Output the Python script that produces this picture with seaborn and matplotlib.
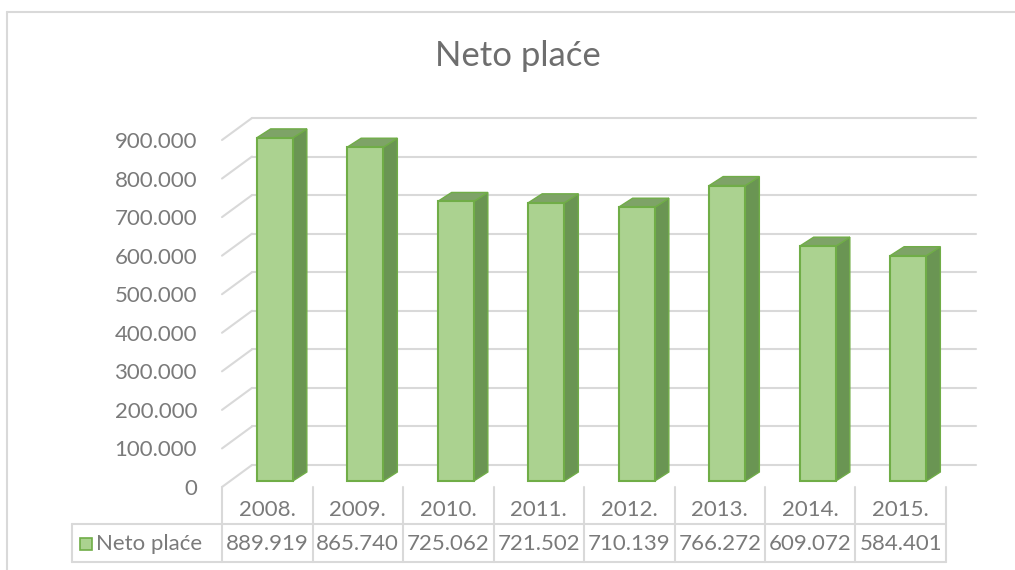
"""Neto plaće — Excel-style 3D column chart with a data table underneath."""

import matplotlib
matplotlib.use("Agg")

import matplotlib.pyplot as plt
import matplotlib.transforms as mtransforms
from matplotlib.lines import Line2D
from matplotlib.patches import Polygon, Rectangle
import pandas as pd
import seaborn as sns

# ── Data ────────────────────────────────────────────────────────────
years = ["2008.", "2009.", "2010.", "2011.", "2012.", "2013.", "2014.", "2015."]
neto_place = [889919, 865740, 725062, 721502, 710139, 766272, 609072, 584401]
series_name = "Neto plaće"
y_ticks = [0, 100000, 200000, 300000, 400000, 500000, 600000, 700000, 800000, 900000]

# ── Styling ─────────────────────────────────────────────────────────
W, H = 1015, 570
FRONT = "#abd290"
EDGE = "#70ad47"
SIDE = "#6a9553"
TOP = "#7ea367"
GRID = "#d9d9d9"
TEXT = "#7a7a7a"

sns.set_theme(style="white")
plt.rcParams["font.family"] = ["Lato", "DejaVu Sans"]

fig = plt.figure(figsize=(W / 100, H / 100), dpi=100)
fig.patch.set_facecolor("white")

# front plane of the plot area, in pixels
x0, x1 = 222, 946
y_zero, y_top = 487, 140
ax = fig.add_axes([x0 / W, 1 - y_zero / H, (x1 - x0) / W, (y_zero - y_top) / H])
ax.set_xlim(-0.5, len(years) - 0.5)
ax.set_ylim(0, y_ticks[-1])
for s in ax.spines.values():
    s.set_visible(False)
ax.set_facecolor("none")

px_x = (len(years)) / (x1 - x0)          # data units per pixel, x
px_y = y_ticks[-1] / (y_zero - y_top)    # data units per pixel, y

# back wall offset and bar depth
wall_dx, wall_dy = 30 * px_x, 22 * px_y
bar_dx, bar_dy = 7.5 * px_x, 6 * px_y
depth_dx, depth_dy = 14 * px_x, 9 * px_y

# gridlines on the back wall + side wall diagonals
for v in y_ticks:
    ax.add_line(Line2D([-0.5, -0.5 + wall_dx], [v, v + wall_dy],
                       color=GRID, lw=1.5, clip_on=False, zorder=0))
    ax.add_line(Line2D([-0.5 + wall_dx, len(years) - 0.5 + wall_dx],
                       [v + wall_dy, v + wall_dy],
                       color=GRID, lw=1.5, clip_on=False, zorder=0))

# front faces
df = pd.DataFrame({"year": years, "value": neto_place})
sns.barplot(data=df, x="year", y="value", width=0.4, color=FRONT,
            saturation=1, edgecolor=EDGE, linewidth=1.5, ax=ax, zorder=3)

for patch in ax.patches:
    patch.set_x(patch.get_x() + bar_dx)
    patch.set_y(bar_dy)
    patch.set_clip_on(False)
    bx, bw, bh = patch.get_x(), patch.get_width(), patch.get_height()
    base = bar_dy
    side = Polygon([(bx + bw, base), (bx + bw + depth_dx, base + depth_dy),
                    (bx + bw + depth_dx, base + bh + depth_dy), (bx + bw, base + bh)],
                   closed=True, facecolor=SIDE, edgecolor=EDGE, lw=1.0,
                   clip_on=False, zorder=2)
    top = Polygon([(bx, base + bh), (bx + depth_dx, base + bh + depth_dy),
                   (bx + bw + depth_dx, base + bh + depth_dy), (bx + bw, base + bh)],
                  closed=True, facecolor=TOP, edgecolor=EDGE, lw=1.0,
                  clip_on=False, zorder=2)
    ax.add_patch(side)
    ax.add_patch(top)

# y axis labels
ax.set_yticks(y_ticks)
ax.set_yticklabels([f"{v:,.0f}".replace(",", ".") for v in y_ticks],
                   fontsize=16, color=TEXT)
ax.tick_params(axis="y", length=0, pad=18)
ax.set_xticks([])
ax.set_xlabel("")
ax.set_ylabel("")

# ── Data table ─────────────────────────────────────────────────────
xdata_yfig = mtransforms.blended_transform_factory(ax.transData, fig.transFigure)


def fy(py):
    return 1 - py / H


row_mid, row_bot = 524, 562
for i in range(len(years) + 1):
    fig.add_artist(Line2D([i - 0.5, i - 0.5], [fy(y_zero), fy(row_bot)],
                          transform=xdata_yfig, color=GRID, lw=1.5))
fig.add_artist(Line2D([72 / W, 72 / W], [fy(row_mid), fy(row_bot)],
                      transform=fig.transFigure, color=GRID, lw=1.5))
for py in (row_mid, row_bot):
    fig.add_artist(Line2D([72 / W, x1 / W], [fy(py), fy(py)],
                          transform=fig.transFigure, color=GRID, lw=1.5))

for i, (yr, val) in enumerate(zip(years, neto_place)):
    fig.text(i, fy(510), yr, transform=xdata_yfig, ha="center", va="center",
             fontsize=16, color=TEXT)
    fig.text(i, fy(544), f"{val:,.0f}".replace(",", "."), transform=xdata_yfig,
             ha="center", va="center", fontsize=16, color=TEXT)

fig.add_artist(Rectangle((80 / W, fy(550)), 12 / W, 12 / H, transform=fig.transFigure,
                         facecolor=FRONT, edgecolor=EDGE, lw=1.2))
fig.text(96 / W, fy(544), series_name, ha="left", va="center",
         fontsize=16, color=TEXT)

# title
fig.text(518 / W, fy(56), series_name, ha="center", va="center",
         fontsize=25, color="#6e6e6e")

# chart frame
fig.add_artist(Line2D([7 / W, 1], [fy(12), fy(12)], transform=fig.transFigure,
                      color=GRID, lw=1.5))
fig.add_artist(Line2D([7 / W, 7 / W], [fy(12), 0], transform=fig.transFigure,
                      color=GRID, lw=1.5))

fig.savefig("out.png", dpi=100)
plt.close(fig)
